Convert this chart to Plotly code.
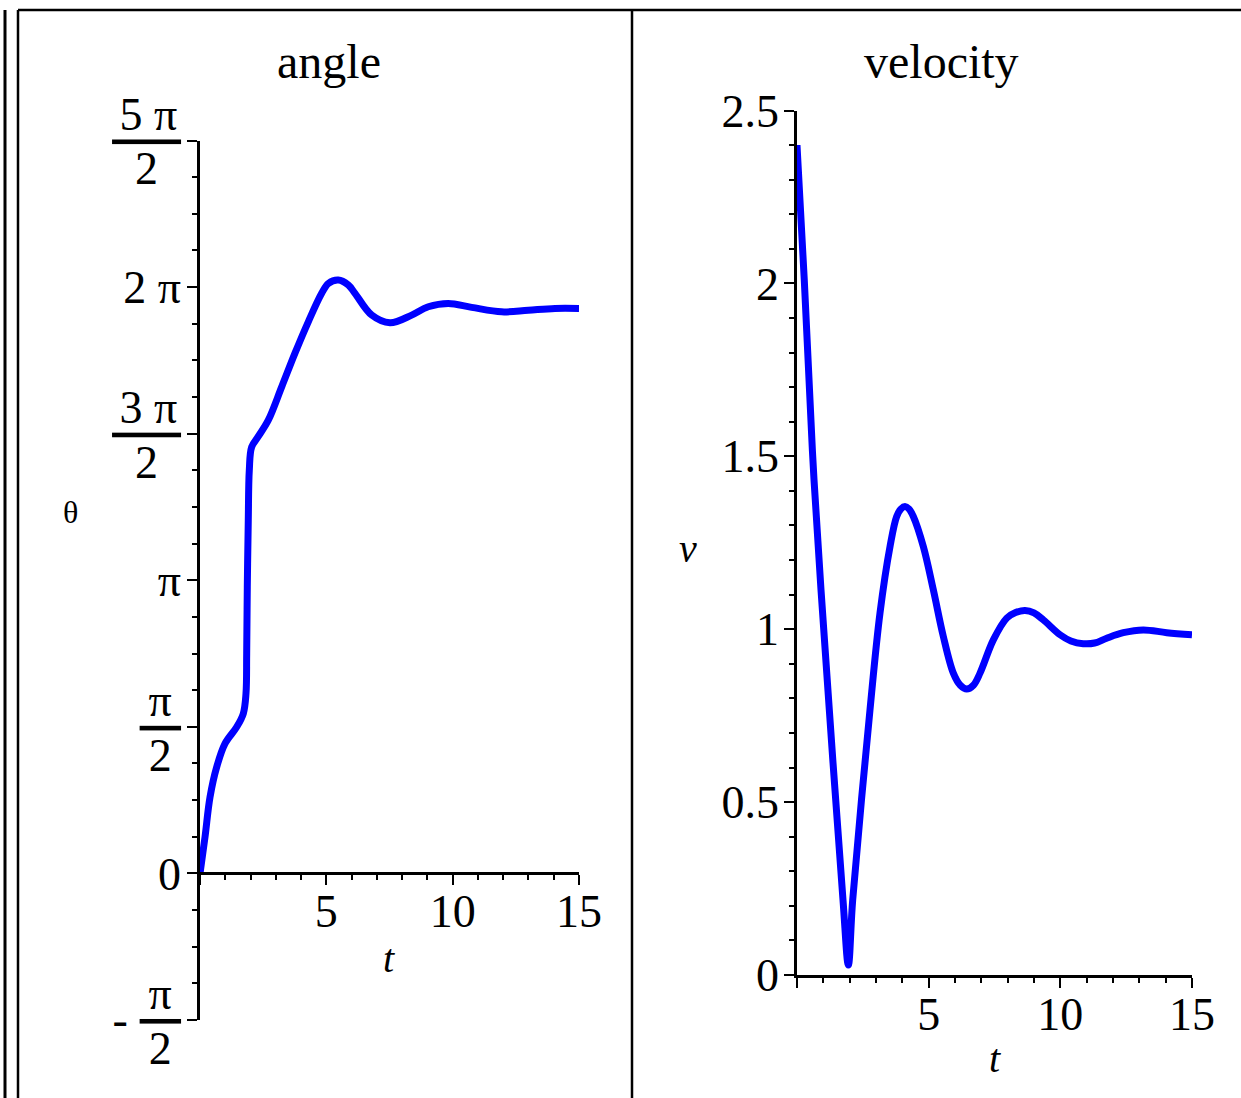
import math
import plotly.graph_objects as go

PI = math.pi

# angle theta(t) of the pendulum
t_angle = [0, 0.198, 0.396, 0.661, 0.989, 1.452, 1.713, 1.820, 1.848, 1.872, 1.911,
           1.951, 2.046, 2.30, 2.703, 3.233, 3.759, 4.286, 4.816, 5.08, 5.473, 5.87,
           6.134, 6.795, 7.519, 8.378, 9.034, 9.826, 10.752, 11.939, 12.992, 14.048, 15.0]
theta = [0, 0.389, 0.818, 1.140, 1.391, 1.569, 1.712, 1.927, 2.359, 3.070, 3.785,
         4.321, 4.571, 4.680, 4.857, 5.214, 5.575, 5.911, 6.216, 6.322, 6.358, 6.305,
         6.216, 5.983, 5.900, 5.983, 6.072, 6.108, 6.066, 6.018, 6.036, 6.055, 6.055]

# speed v(t)
t_vel = [0, 0.277, 0.646, 1.227, 1.747, 1.95, 2.115, 2.772, 3.152, 3.532, 3.785,
         3.95, 4.102, 4.25, 4.418, 4.797, 5.177, 5.557, 5.937, 6.2, 6.445, 6.7,
         6.950, 7.456, 7.964, 8.3, 8.659, 9.0, 9.354, 9.989, 10.4, 10.87, 11.3,
         11.76, 12.39, 13.15, 14.04, 15.0]
vel = [2.40, 2.009, 1.432, 0.767, 0.217, 0.029, 0.217, 0.767, 1.047, 1.239, 1.326,
       1.348, 1.355, 1.348, 1.326, 1.239, 1.114, 0.979, 0.873, 0.838, 0.827, 0.838,
       0.873, 0.969, 1.032, 1.048, 1.054, 1.047, 1.027, 0.984, 0.966, 0.958, 0.960,
       0.974, 0.990, 0.998, 0.990, 0.984]

# tick marks
t_ticks = [0, 5, 10, 15]
t_tick_text = ["", "5", "10", "15"]
t_minor = [1, 2, 3, 4, 6, 7, 8, 9, 11, 12, 13, 14]

NB = "\u00a0"
THIN = "\u2009"
HAIR = "\u200a"


def frac(num, num_pad, den_pad):
    # stacked fraction: numerator on the first line, bar drawn as an overline on "2"
    top = '<span style="baseline-shift:-3px">' + num + num_pad + "</span>"
    bottom = ('<span style="text-decoration:overline;text-decoration-thickness:2px;'
              'baseline-shift:2px">' + den_pad + "2" + den_pad + "</span>")
    return top + "<br>" + bottom


MINUS = '<span style="baseline-shift:-29px">-</span>' + NB + THIN

theta_ticks = [-PI / 2, 0, PI / 2, PI, 3 * PI / 2, 2 * PI, 5 * PI / 2]
theta_tick_text = [
    MINUS + frac("π", THIN, THIN),
    "0",
    frac("π", THIN, THIN),
    "π",
    frac("3 π", HAIR, NB * 2),
    "2 π",
    frac("5 π", HAIR, NB * 2),
]
theta_minor = [k * PI / 8 for k in range(-4, 21) if k % 4 != 0]

v_ticks = [0, 0.5, 1, 1.5, 2, 2.5]
v_tick_text = ["0", "0.5", "1", "1.5", "2", "2.5"]
v_minor = [k / 10 for k in range(0, 26) if k % 5 != 0]

W, H = 1241, 1098
FONT = "Liberation Serif"
BLUE = "#0000ff"


def fx(p):
    return p / W


def fy(p):
    return 1 - p / H


fig = go.Figure()
fig.add_trace(go.Scatter(x=t_angle, y=theta, mode="lines",
                         line=dict(color=BLUE, width=7, shape="spline", smoothing=1.0),
                         xaxis="x", yaxis="y", hoverinfo="skip"))
fig.add_trace(go.Scatter(x=t_vel, y=vel, mode="lines",
                         line=dict(color=BLUE, width=7, shape="spline", smoothing=1.0),
                         xaxis="x2", yaxis="y2", hoverinfo="skip"))

axis_style = dict(showline=True, linecolor="black", linewidth=2.5, ticks="outside",
                  ticklen=10, tickwidth=2, tickcolor="black", showgrid=False,
                  zeroline=False, automargin=False,
                  tickfont=dict(family=FONT, size=46, color="black"),
                  fixedrange=True)
minor_style = dict(ticks="outside", ticklen=5, tickwidth=2, tickcolor="black", showgrid=False)

theta_lo, theta_hi = -PI / 2, 5 * PI / 2
y1_dom = [fy(1020), fy(140.5)]
zero_pos = y1_dom[0] + (0 - theta_lo) / (theta_hi - theta_lo) * (y1_dom[1] - y1_dom[0])

fig.update_layout(
    width=W, height=H, margin=dict(l=0, r=0, t=0, b=0, pad=0), autosize=False,
    paper_bgcolor="white", plot_bgcolor="white", showlegend=False,
    font=dict(family=FONT, color="black"),
    xaxis=dict(domain=[fx(200), fx(579)], range=[0, 15], anchor="free", position=zero_pos,
               tickmode="array", tickvals=t_ticks, ticktext=t_tick_text, ticklabelstandoff=-13,
               minor=dict(tickmode="array", tickvals=t_minor, **minor_style), **axis_style),
    yaxis=dict(domain=y1_dom, range=[theta_lo, theta_hi], anchor="x",
               tickmode="array", tickvals=theta_ticks, ticktext=theta_tick_text,
               ticklabelstandoff=-3,
               minor=dict(tickmode="array", tickvals=theta_minor, **minor_style), **axis_style),
    xaxis2=dict(domain=[fx(797), fx(1192)], range=[0, 15], anchor="y2",
                tickmode="array", tickvals=t_ticks, ticktext=t_tick_text, ticklabelstandoff=-13,
                minor=dict(tickmode="array", tickvals=t_minor, **minor_style), **axis_style),
    yaxis2=dict(domain=[fy(975), fy(110.5)], range=[0, 2.5], anchor="x2",
                tickmode="array", tickvals=v_ticks, ticktext=v_tick_text,
                ticklabelstandoff=-4,
                minor=dict(tickmode="array", tickvals=v_minor, **minor_style), **axis_style),
)

# panel titles and axis labels
labels = [
    ("angle", 329, 62, 48, False),
    ("velocity", 941, 62, 48, False),
    ("θ", 70, 512, 32, False),
    ("t", 389, 958, 40, True),
    ("v", 688, 548, 40, True),
    ("t", 995, 1058, 40, True),
]
for text, px, py, size, italic in labels:
    fig.add_annotation(text=("<i>" + text + "</i>") if italic else text,
                       x=fx(px), y=fy(py), xref="paper", yref="paper",
                       xanchor="center", yanchor="middle", showarrow=False,
                       font=dict(family=FONT, size=size, color="black"))

# table-style frame around the two panels
frame = [
    (5, 10, 5, H, 3),
    (18, 10, 18, H, 2.5),
    (18, 10, W, 10, 2.5),
    (632, 10, 632, H, 2.5),
]
for x0, y0, x1, y1, w in frame:
    fig.add_shape(type="line", xref="paper", yref="paper",
                  x0=fx(x0), y0=fy(y0), x1=fx(x1), y1=fy(y1),
                  line=dict(color="black", width=w))

fig.write_html("out.html")
